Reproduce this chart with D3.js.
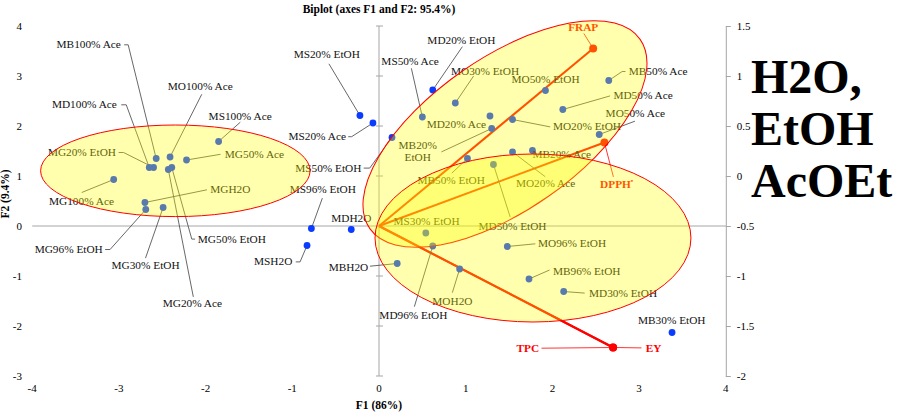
<!DOCTYPE html>
<html><head><meta charset="utf-8">
<script src="https://cdn.jsdelivr.net/npm/d3@7"></script>
<style>body{margin:0;background:#fff}svg{display:block}</style>
</head><body>
<script>
// ---------- DATA ----------
const obsNames = ["MB100% Ace","MO100% Ace","MD100% Ace","MS100% Ace","MG20% EtOH","MG50% Ace","MG100% Ace","MGH2O","MG96% EtOH","MG30% EtOH","MG50% EtOH","MG20% Ace","MS96% EtOH","MDH2O","MSH2O","MBH2O","MS20% EtOH","MS20% Ace","MD20% EtOH","MS50% Ace","MO30% EtOH","MO50% EtOH","MD20% Ace","MO20% EtOH","MB20% EtOH","MS50% EtOH","MB50% EtOH","MO20% Ace","MB20% Ace","MD50% Ace","MB50% Ace","MO50% Ace","MD50% EtOH","MS30% EtOH","MD96% EtOH","MOH2O","MO96% EtOH","MB96% EtOH","MD30% EtOH","MB30% EtOH"];
const obsF1 = [-2.57,-2.41,-2.65,-1.85,-2.60,-2.22,-3.06,-2.70,-2.69,-2.49,-2.39,-2.43,-0.78,-0.32,-0.83,0.21,-0.22,-0.07,0.62,0.50,0.88,1.92,1.28,1.54,1.30,0.15,1.02,1.54,1.77,2.12,2.65,2.54,1.32,0.54,0.62,0.93,1.48,1.73,2.13,3.38];
const obsF2 = [1.35,1.38,1.17,1.69,1.17,1.32,0.93,0.47,0.33,0.37,1.17,1.13,-0.05,-0.07,-0.39,-0.75,2.21,2.06,2.72,2.18,2.46,2.71,2.20,2.13,1.95,1.77,1.35,1.48,1.51,2.33,2.91,1.83,1.23,-0.14,-0.40,-0.86,-0.41,-1.06,-1.31,-2.13];
const varNames = ["FRAP","DPPH","TPC","EY"];
const varF1 = [2.47,2.60,2.70,2.70];
const varF2 = [3.55,1.67,-2.43,-2.43];
const xTicks = [-4,-3,-2,-1,0,1,2,3,4];
const yTicks = [-3,-2,-1,0,1,2,3,4];
const y2Ticks = [-2,-1.5,-1,-0.5,0,0.5,1,1.5];
const titleText = "Biplot (axes F1 and F2: 95.4%)";
const xTitle = "F1 (86%)";
const yTitle = "F2 (9.4%)";
const sideText = ["H2O,","EtOH","AcOEt"];

// ---------- LAYOUT ----------
const W = 910, H = 418;
const x = d3.scaleLinear().domain([-4,4]).range([32.2,725.8]);
const y = d3.scaleLinear().domain([-3,4]).range([376,26]);
const y2 = d3.scaleLinear().domain([-2,1.5]).range([376,26]);

// label placement: offset of text anchor from point (px), anchor, leader polyline (offsets)
const lab = {
 "MB100% Ace":[-35.3,-110.2,"end",[[-32,-113.7],[-28,-113.7]]],
 "MO100% Ace":[-2.3,-66.8,"start",[[31.7,-62.7]]],
 "MD100% Ace":[-32.4,-59.2,"end",[[-28,-62.7],[-23,-62.7]]],
 "MS100% Ace":[-10,-21.5,"start",[[21.7,-19.3]]],
 "MG20% EtOH":[-37.6,-11.5,"end",[[-35,-15],[-30,-15]]],
 "MG50% Ace":[38.3,-2.2,"start",[[34,-5.7]]],
 "MG100% Ace":[-64.7,25.1,"start",[[-32,13]]],
 "MGH2O":[65.3,-9.2,"start",[[62,-12.7]]],
 "MG96% EtOH":[-43,43.5,"end",[[-40.7,40],[-35.7,40]]],
 "MG30% EtOH":[-51.6,61.5,"start",[[-17.6,50.6]]],
 "MG50% EtOH":[26,75.1,"start",[[23.3,71.6],[20,71.6]]],
 "MG20% Ace":[-5.6,137.5,"start",[[25,127.4]]],
 "MS96% EtOH":[-21.7,-35.2,"start",[[11,-30.4]]],
 "MDH2O":[-20,-7.1,"start",null],
 "MSH2O":[-14.7,19.9,"end",[[-11.3,16.4],[-7,16.4]]],
 "MBH2O":[-29,7.5,"end",[[-27.3,2.7]]],
 "MS20% EtOH":[-66.3,-57.2,"start",[[-31,-51.7]]],
 "MS20% Ace":[-27,17.2,"end",[[-24.7,13.7],[-21.3,13.7]]],
 "MD20% EtOH":[-5.4,-46.5,"start",[[29.6,-43.3]]],
 "MS50% Ace":[-41,-51.8,"start",[[-11,-48.7]]],
 "MO30% EtOH":[-4.3,-28.5,"start",[[18.3,-27]]],
 "MO50% EtOH":[-34,-7.9,"start",null],
 "MD20% Ace":[-63.3,11.8,"start",null],
 "MO20% EtOH":[40.4,10.9,"start",[[37.7,7.4]]],
 "MB20% EtOH":[-74,20.9,"middle",[[-50.3,23.4]]],
 "MS50% EtOH":[-30.6,34.1,"end",[[-28.3,30.6],[-22.3,30.6]]],
 "MB50% EtOH":[-50,25.8,"start",[[-15.6,14.6]]],
 "MO20% Ace":[3.4,34.8,"start",[[32.7,24.7]]],
 "MB20% Ace":[0,7.1,"start",null],
 "MD50% Ace":[50.6,-10.1,"start",[[47.3,-13.6]]],
 "MB50% Ace":[20,-5.5,"start",[[16.7,-9],[13.4,-9]]],
 "MO50% Ace":[6.4,-17.5,"start",[[35.7,-13.3]]],
 "MD50% EtOH":[-15,65.2,"start",[[16.7,52.4]]],
 "MS30% EtOH":[-32.4,-8.5,"start",null],
 "MD96% EtOH":[-53.4,73.2,"start",[[-18.4,60.7]]],
 "MOH2O":[-27.3,36.2,"start",[[-7.3,23.7]]],
 "MO96% EtOH":[30.7,0.8,"start",[[28,-2.7]]],
 "MB96% EtOH":[24,-3.8,"start",[[20.6,-9]]],
 "MD30% EtOH":[25.3,5.8,"start",[[21,1.6]]],
 "MB30% EtOH":[-34,-8.2,"start",null]
};
const vlab = {
 "FRAP":[-25,-17.3,[[-9.3,-15]]],
 "DPPH":[-4.3,45.7,[[9,34.4]]],
 "TPC":[-96.6,4.7,[[-71.6,0.7]]],
 "EY":[32.7,4.2,[[28.4,0.4]]]
};
// ellipses: centre in data units, radii in data units (x-units, y-units), rotation degrees
const ellipses = [
 {cx:-2.349, cy:1.104, rx:1.554, ry:0.916, rot:0},
 {cx:1.453, cy:1.84, rx:1.903, ry:1.52, rot:-35},
 {cx:1.776, cy:-0.24, rx:1.822, ry:1.68, rot:0}
];

const svg = d3.select("body").append("svg").attr("width",W).attr("height",H);
const serif = "'Liberation Serif','Times New Roman',serif";
const axisCol = "#a6a6a6";

// title
svg.append("text").attr("x",379).attr("y",13).attr("text-anchor","middle")
  .attr("font-family",serif).attr("font-weight","bold").attr("font-size",11.5).text(titleText);

// horizontal axis line at F2 = 0
svg.append("line").attr("x1",x(-4)).attr("x2",x(4)).attr("y1",y(0)).attr("y2",y(0))
  .attr("stroke",axisCol).attr("stroke-width",1);
// vertical axis at F1 = 0 with crossing ticks
svg.append("line").attr("x1",x(0)).attr("x2",x(0)).attr("y1",y(4)).attr("y2",y(-3))
  .attr("stroke",axisCol).attr("stroke-width",1);
svg.selectAll(".vt").data(yTicks).enter().append("line")
  .attr("x1",x(0)-3).attr("x2",x(0)+4).attr("y1",d=>y(d)).attr("y2",d=>y(d))
  .attr("stroke",axisCol);
// left tick labels
svg.selectAll(".yl").data(yTicks).enter().append("text")
  .attr("x",22).attr("y",d=>y(d)+4).attr("text-anchor","end")
  .attr("font-family",serif).attr("font-size",11).text(d=>d);
// bottom tick labels
svg.selectAll(".xl").data(xTicks).enter().append("text")
  .attr("x",d=>x(d)).attr("y",392).attr("text-anchor","middle")
  .attr("font-family",serif).attr("font-size",11).text(d=>d);
// right axis
const ra = svg.append("g").attr("transform",`translate(${x(4)},0)`)
  .call(d3.axisRight(y2).tickValues(y2Ticks).tickSize(5).tickSizeOuter(0).tickPadding(6).tickFormat(d=>d));
ra.select(".domain").attr("stroke",axisCol);
ra.selectAll(".tick line").attr("stroke",axisCol);
ra.selectAll(".tick text").attr("font-family",serif).attr("font-size",11).attr("fill","#000");

// axis titles
svg.append("text").attr("x",379).attr("y",409).attr("text-anchor","middle")
  .attr("font-family",serif).attr("font-weight","bold").attr("font-size",11.5).text(xTitle);
svg.append("text").attr("transform","translate(9,194) rotate(-90)").attr("text-anchor","middle")
  .attr("font-family",serif).attr("font-weight","bold").attr("font-size",11.5).text(yTitle);

// variable vectors
const vars = varNames.map((n,i)=>({n, px:x(varF1[i]), py:y(varF2[i])}));
svg.selectAll(".vec").data(vars).enter().append("line")
  .attr("x1",x(0)).attr("y1",y(0)).attr("x2",d=>d.px).attr("y2",d=>d.py)
  .attr("stroke","#ff0000").attr("stroke-width",2);

// observations
const obs = obsNames.map((n,i)=>({n, px:x(obsF1[i]), py:y(obsF2[i])}));
const line = d3.line();
obs.forEach(o=>{
  const L = lab[o.n];
  if(L[3]){
    const pts = L[3].map(p=>[o.px+p[0], o.py+p[1]]).concat([[o.px,o.py]]);
    svg.append("path").attr("d",line(pts)).attr("fill","none").attr("stroke","#404040").attr("stroke-width",0.8);
  }
});
svg.selectAll(".pt").data(obs).enter().append("circle")
  .attr("cx",d=>d.px).attr("cy",d=>d.py).attr("r",3.4).attr("fill","#0a3cff");
obs.forEach(o=>{
  const L = lab[o.n];
  const t = svg.append("text").attr("x",o.px+L[0]).attr("y",o.py+L[1]).attr("text-anchor",L[2])
    .attr("font-family",serif).attr("font-size",11.3).attr("fill","#111");
  if(o.n==="MB20% EtOH"){
    t.append("tspan").attr("x",o.px+L[0]).text("MB20%");
    t.append("tspan").attr("x",o.px+L[0]).attr("dy",11.6).text("EtOH");
  } else t.text(o.n);
});

// variable labels, leaders, points
vars.forEach(v=>{
  const L = vlab[v.n];
  const pts = L[2].map(p=>[v.px+p[0], v.py+p[1]]).concat([[v.px,v.py]]);
  svg.append("path").attr("d",line(pts)).attr("fill","none").attr("stroke","#ff0000").attr("stroke-width",0.8);
  const t = svg.append("text").attr("x",v.px+L[0]).attr("y",v.py+L[1])
    .attr("font-family",serif).attr("font-weight","bold").attr("font-size",11.3).attr("fill","#ff0000");
  t.append("tspan").text(v.n);
  if(v.n==="DPPH") t.append("tspan").attr("dy",-5).attr("font-size",7).text("•");
});
svg.selectAll(".vp").data(vars).enter().append("circle")
  .attr("cx",d=>d.px).attr("cy",d=>d.py).attr("r",4).attr("fill","#ff0000");

// ellipses overlay
ellipses.forEach(e=>{
  const cx = x(e.cx), cy = y(e.cy);
  svg.append("ellipse").attr("cx",0).attr("cy",0)
    .attr("rx",x(e.rx)-x(0)).attr("ry",y(0)-y(e.ry))
    .attr("transform",`translate(${cx},${cy}) rotate(${e.rot})`)
    .attr("fill","#ffff00").attr("fill-opacity",0.32)
    .attr("stroke","#ff0000").attr("stroke-width",1);
});

// side text
const st = svg.append("text").attr("font-family",serif).attr("font-weight","bold").attr("font-size",48).attr("fill","#000");
sideText.forEach((s,i)=> st.append("tspan").attr("x",751).attr("y",93+i*52).text(s));
</script>
</body></html>
